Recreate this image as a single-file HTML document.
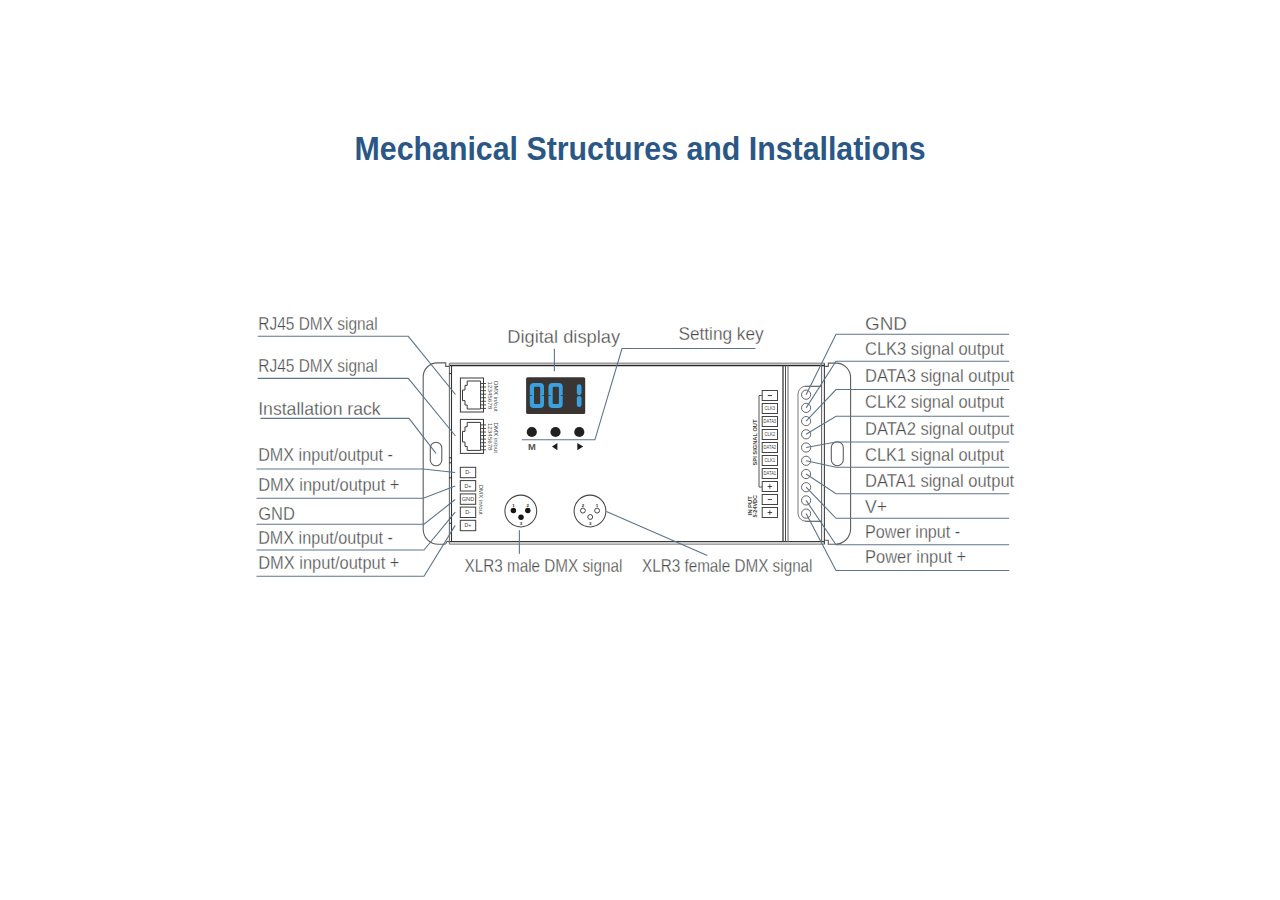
<!DOCTYPE html>
<html>
<head>
<meta charset="utf-8">
<style>
html,body{margin:0;padding:0;background:#fff;}
body{width:1280px;height:900px;overflow:hidden;position:relative;}
svg{position:absolute;left:0;top:0;}
.lbl{font-family:"Liberation Sans",sans-serif;font-size:18.4px;fill:#4a4a4a;stroke:#fff;stroke-width:0.3px;}
.ld{fill:none;stroke:#5d7489;stroke-width:1.1;}
.bd{fill:none;stroke:#3a3a3a;stroke-width:1.2;}
.gr{fill:none;stroke:#8a8a8a;stroke-width:1;}
.tiny{font-family:"Liberation Sans",sans-serif;fill:#555;}
</style>
</head>
<body>
<svg width="1280" height="900" viewBox="0 0 1280 900">
<!-- title -->
<text x="354.6" y="160" textLength="571" lengthAdjust="spacingAndGlyphs" style="font-family:'Liberation Sans',sans-serif;font-weight:bold;font-size:32.4px;fill:#2a5786;">Mechanical Structures and Installations</text>

<!-- ==== DEVICE ==== -->
<g id="device">
  <!-- left ear -->
  <path fill="none" stroke="#5e5e5e" stroke-width="1.1" d="M449.2,366.4 L445.7,366.4 L445.7,362.9 L437.2,362.9 A14,14 0 0 0 423.2,376.9 L423.2,529.3 A15,15 0 0 0 438.2,544.3 L444.5,544.3 Q446,544.3 446.3,542.6 Q446.8,541.2 448.2,541.4 L449.2,542"/>
  <rect x="430.3" y="442.2" width="11.5" height="23.5" rx="5.75" fill="none" stroke="#5e5e5e" stroke-width="1.1"/>
  <!-- right ear -->
  <path fill="none" stroke="#5e5e5e" stroke-width="1.1" d="M824.3,366.4 L828.3,366.4 L828.3,363.1 L836.1,363.1 A14.5,14.5 0 0 1 850.6,377.6 L850.6,528.8 A15.5,15.5 0 0 1 835.1,544.3 L828.3,544.3 L828.3,540.3 L824.3,540.3"/>
  <rect x="831.3" y="441.7" width="12" height="24" rx="6" fill="none" stroke="#5e5e5e" stroke-width="1.1"/>
  <!-- body -->
  <line x1="449.5" y1="363.2" x2="824.5" y2="363.2" stroke="#9c9c9c" stroke-width="1.4"/>
  <line x1="449.5" y1="365.5" x2="824.5" y2="365.5" stroke="#262626" stroke-width="1.3"/>
  <line x1="449.5" y1="541.7" x2="824.5" y2="541.7" stroke="#3a3a3a" stroke-width="1.3"/>
  <line x1="449.5" y1="544.2" x2="824.5" y2="544.2" stroke="#8a8a8a" stroke-width="1.3"/>
  <line x1="449.4" y1="363.2" x2="449.4" y2="544.2" stroke="#707070" stroke-width="1.1"/>
  <line x1="451.5" y1="365.5" x2="451.5" y2="541.7" stroke="#333" stroke-width="1.1"/>
  <line x1="821.6" y1="365.5" x2="821.6" y2="541.7" stroke="#6a6a6a" stroke-width="1.1"/>
  <line x1="824.4" y1="363.2" x2="824.4" y2="544.2" stroke="#404040" stroke-width="1.1"/>
  <line x1="783" y1="365.5" x2="783" y2="541.7" stroke="#3a3a3a" stroke-width="1.3"/>
  <line x1="785.5" y1="365.5" x2="785.5" y2="541.7" stroke="#4a4a4a" stroke-width="1"/>
  <line x1="788" y1="365.5" x2="788" y2="541.7" stroke="#707070" stroke-width="1.1"/>

  <path d="M449,373.6 H452 M449,457.8 H452 M449,462.8 H452 M449,477.8 H452 M449,518.3 H452 M449,523.3 H452" stroke="#333" stroke-width="1"/>
  <!-- RJ45 jacks -->
  <g>
    <rect x="460.4" y="378" width="23.1" height="34" fill="none" stroke="#3a3a3a" stroke-width="1"/>
    <path d="M467.2,381 L480.6,381 L480.6,409 L467.2,409 L467.2,405 L465,405 L465,400.6 L462.5,400.6 L462.5,390 L465,390 L465,385.4 L467.2,385.4 Z" fill="none" stroke="#3a3a3a" stroke-width="1"/>
    <path d="M480.6,383.50 H486 M480.6,387.06 H486 M480.6,390.62 H486 M480.6,394.18 H486 M480.6,397.74 H486 M480.6,401.30 H486 M480.6,404.86 H486 M480.6,408.42 H486" stroke="#3a3a3a" stroke-width="0.9"/>
    <text class="tiny" transform="translate(488.4,381.5) rotate(90)" textLength="27.7" lengthAdjust="spacingAndGlyphs" style="font-size:4.6px">12345678</text>
    <text class="tiny" transform="translate(494.2,381) rotate(90)" textLength="30.7" lengthAdjust="spacingAndGlyphs" style="font-size:5.4px;fill:#4a4a4a">DMX in/out</text>
  </g>
  <g>
    <rect x="460.4" y="419.4" width="23.1" height="34" fill="none" stroke="#3a3a3a" stroke-width="1"/>
    <path d="M467.2,422.4 L480.6,422.4 L480.6,450.4 L467.2,450.4 L467.2,446.4 L465,446.4 L465,442.0 L462.5,442.0 L462.5,431.4 L465,431.4 L465,426.79999999999995 L467.2,426.79999999999995 Z" fill="none" stroke="#3a3a3a" stroke-width="1"/>
    <path d="M480.6,424.90 H486 M480.6,428.46 H486 M480.6,432.02 H486 M480.6,435.58 H486 M480.6,439.14 H486 M480.6,442.70 H486 M480.6,446.26 H486 M480.6,449.82 H486" stroke="#3a3a3a" stroke-width="0.9"/>
    <text class="tiny" transform="translate(488.4,422.9) rotate(90)" textLength="27.7" lengthAdjust="spacingAndGlyphs" style="font-size:4.6px">12345678</text>
    <text class="tiny" transform="translate(494.2,422.4) rotate(90)" textLength="30.7" lengthAdjust="spacingAndGlyphs" style="font-size:5.4px;fill:#4a4a4a">DMX in/out</text>
  </g>

  <!-- display -->
  <rect x="526.1" y="377.2" width="59.1" height="36.9" rx="1.5" fill="#3a3433"/>
  <g id="digits" fill="#38a2e0">
    <path fill-rule="evenodd" d="M533.8,383 H540 A4,4 0 0 1 544,387 V404 A4,4 0 0 1 540,408 H533.8 A4,4 0 0 1 529.8,404 V387 A4,4 0 0 1 533.8,383 Z M535,386.8 Q534,386.8 534,387.8 V403.1 Q534,404.1 535,404.1 H539.2 Q540.2,404.1 540.2,403.1 V387.8 Q540.2,386.8 539.2,386.8 Z"/>
    <path fill-rule="evenodd" d="M552.5,383 H558.7 A4,4 0 0 1 562.7,387 V404 A4,4 0 0 1 558.7,408 H552.5 A4,4 0 0 1 548.5,404 V387 A4,4 0 0 1 552.5,383 Z M553.7,386.8 Q552.7,386.8 552.7,387.8 V403.1 Q552.7,404.1 553.7,404.1 H557.9 Q558.9,404.1 558.9,403.1 V387.8 Q558.9,386.8 557.9,386.8 Z"/>
    <rect x="576.8" y="384.3" width="4.7" height="10.9" rx="2.35"/>
    <rect x="576.8" y="396" width="4.7" height="11" rx="2.35"/>
  </g>
  <g stroke="#2f3a44" stroke-width="0.8">
    <path d="M529.5,395.5 H532 M542,395.5 H544.3 M548.2,395.5 H550.7 M560.7,395.5 H563"/>
  </g>
  <!-- buttons -->
  <circle cx="531.8" cy="432" r="5.1" fill="#231f20"/>
  <circle cx="555.5" cy="432" r="5.1" fill="#231f20"/>
  <circle cx="579.3" cy="432" r="5.1" fill="#231f20"/>
  <text x="528" y="450.3" textLength="7.8" lengthAdjust="spacingAndGlyphs" style="font-family:'Liberation Sans',sans-serif;font-weight:bold;font-size:9.6px;fill:#555">M</text>
  <path d="M557.4,442.9 L557.4,450.3 L552,446.6 Z" fill="#1d1d1d"/>
  <path d="M577.3,442.9 L577.3,450.3 L583.2,446.6 Z" fill="#1d1d1d"/>

  <!-- DMX terminals left -->
  <g stroke="#3d3d3d" stroke-width="1" fill="none">
    <rect x="460.3" y="467.3" width="15.4" height="10.4"/>
    <rect x="460.3" y="480.6" width="15.4" height="10.4"/>
    <rect x="460.3" y="493.9" width="15.4" height="10.4"/>
    <rect x="460.3" y="507.1" width="15.4" height="10.4"/>
    <rect x="460.3" y="520.3" width="15.4" height="10.4"/>
  </g>
  <g style="font-family:'Liberation Sans',sans-serif;font-size:5.2px;fill:#3d3d3d" text-anchor="middle">
    <text x="468" y="474.4">D-</text>
    <text x="468" y="487.7">D+</text>
    <text x="468" y="501.0" textLength="12.5" lengthAdjust="spacingAndGlyphs">GND</text>
    <text x="468" y="514.2">D-</text>
    <text x="468" y="527.4">D+</text>
  </g>
  <text transform="translate(479.2,484.7) rotate(90)" textLength="30" lengthAdjust="spacingAndGlyphs" style="font-family:'Liberation Sans',sans-serif;font-size:5.6px;fill:#4a4a4a">DMX in/out</text>

  <!-- XLR male -->
  <circle cx="520.8" cy="511" r="15.9" fill="none" stroke="#444" stroke-width="1.05"/>
  <circle cx="513.4" cy="510.5" r="2.75" fill="#151515"/>
  <circle cx="527.8" cy="510.5" r="2.75" fill="#151515"/>
  <circle cx="521" cy="517.3" r="2.75" fill="#151515"/>
  <g style="font-family:'Liberation Sans',sans-serif;font-size:4.4px;font-weight:bold;fill:#222" text-anchor="middle">
    <text x="513.4" y="507">1</text><text x="527.8" y="507">2</text><text x="521" y="525">3</text>
  </g>
  <!-- XLR female -->
  <circle cx="590" cy="511" r="15.9" fill="none" stroke="#444" stroke-width="1.05"/>
  <circle cx="582.9" cy="510.6" r="2.45" fill="none" stroke="#333" stroke-width="0.9"/>
  <circle cx="597.1" cy="510.6" r="2.45" fill="none" stroke="#333" stroke-width="0.9"/>
  <circle cx="590.2" cy="517" r="2.45" fill="none" stroke="#333" stroke-width="0.9"/>
  <g style="font-family:'Liberation Sans',sans-serif;font-size:4.4px;font-weight:bold;fill:#222" text-anchor="middle">
    <text x="582.9" y="507">2</text><text x="597.1" y="507">1</text><text x="590.2" y="525">3</text>
  </g>

  <!-- SPI terminals -->
  <g stroke="#444" stroke-width="1" fill="none">
    <rect x="762.2" y="390.5" width="15.3" height="10"/>
    <rect x="762.2" y="403.5" width="15.3" height="10"/>
    <rect x="762.2" y="416.5" width="15.3" height="10"/>
    <rect x="762.2" y="429.5" width="15.3" height="10"/>
    <rect x="762.2" y="442.5" width="15.3" height="10"/>
    <rect x="762.2" y="455.5" width="15.3" height="10"/>
    <rect x="762.2" y="468.5" width="15.3" height="10"/>
    <rect x="762.2" y="481.5" width="15.3" height="10"/>
    <rect x="762.2" y="494.5" width="15.3" height="10"/>
    <rect x="762.2" y="507.5" width="15.3" height="10"/>
    <path d="M762.2,395.5 H759 V487 H762.2" stroke="#555"/>
  </g>
  <g class="tiny" style="font-size:4.6px;fill:#3d3d3d" text-anchor="middle">
    <path d="M767.8,395.6 H771.9" stroke="#333" stroke-width="1"/>
    <text x="769.85" y="410.4" textLength="10.5" lengthAdjust="spacingAndGlyphs">CLK3</text>
    <text x="769.85" y="423.4" textLength="12.6" lengthAdjust="spacingAndGlyphs">DATA3</text>
    <text x="769.85" y="436.4" textLength="10.5" lengthAdjust="spacingAndGlyphs">CLK2</text>
    <text x="769.85" y="449.4" textLength="12.6" lengthAdjust="spacingAndGlyphs">DATA2</text>
    <text x="769.85" y="462.4" textLength="10.5" lengthAdjust="spacingAndGlyphs">CLK1</text>
    <text x="769.85" y="475.4" textLength="12.6" lengthAdjust="spacingAndGlyphs">DATA1</text>
    <path d="M767.6,486.5 H772.1 M769.85,484.3 V488.7 M767.8,499.5 H771.9 M767.6,512.5 H772.1 M769.85,510.3 V514.7" stroke="#333" stroke-width="0.9"/>
  </g>
  <text class="tiny" transform="translate(757,465.5) rotate(-90)" textLength="46" lengthAdjust="spacingAndGlyphs" style="font-size:5.4px;fill:#444;font-weight:bold">SPI SIGNAL OUT</text>
  <text class="tiny" transform="translate(752.2,515.5) rotate(-90)" textLength="19.5" lengthAdjust="spacingAndGlyphs" style="font-size:5px;fill:#444;font-weight:bold">IN PUT</text>
  <text class="tiny" transform="translate(757.4,517.5) rotate(-90)" textLength="22.5" lengthAdjust="spacingAndGlyphs" style="font-size:5px;fill:#444;font-weight:bold">5-24VDC</text>

  <!-- right terminal panel -->
  <path fill="none" stroke="#7a7a7a" stroke-width="1" d="M806,386.2 A8,8 0 0 0 798,394.2 L798,513 A8,8 0 0 0 806,521.2"/>
  <path fill="none" stroke="#444" stroke-width="1.1" d="M805.5,386.2 H821.6 M805.5,521.2 H821.6"/>
  <g fill="none" stroke="#666" stroke-width="1">
    <circle cx="806.1" cy="394.7" r="4.6"/>
    <circle cx="806.1" cy="407.9" r="4.6"/>
    <circle cx="806.1" cy="421.1" r="4.6"/>
    <circle cx="806.1" cy="434.3" r="4.6"/>
    <circle cx="806.1" cy="447.5" r="4.6"/>
    <circle cx="806.1" cy="460.8" r="4.6"/>
    <circle cx="806.1" cy="474.0" r="4.6"/>
    <circle cx="806.1" cy="487.2" r="4.6"/>
    <circle cx="806.1" cy="500.4" r="4.6"/>
    <circle cx="806.1" cy="513.6" r="4.6"/>
  </g>
</g>

<!-- ==== LEADER LINES ==== -->
<g class="ld">
  <polyline points="257.7,336.3 408.3,336.3 455.5,394.5"/>
  <polyline points="257.7,378.4 408.3,378.4 455.5,436"/>
  <polyline points="260.5,418.4 409,418.4 436,453.3"/>
  <polyline points="256.5,469 423.3,469 455.2,472.5"/>
  <polyline points="256.5,498.2 423.3,498.2 455.2,486"/>
  <polyline points="256.5,524.3 424,524.3 455.2,499.5"/>
  <polyline points="256.5,550 424,550 455.2,512.2"/>
  <polyline points="256.5,576.3 424,576.3 455.2,525.4"/>
  <polyline points="554.4,348.8 554.4,371.3"/>
  <polyline points="521.8,439.8 594.9,439.8 622,348.5 755.5,348.5"/>
  <polyline points="519.4,530.3 519.4,553.8"/>
  <polyline points="606.4,511.6 707.3,555.6"/>
  <polyline points="806.1,394.7 836,334.2 1009.2,334.2"/>
  <polyline points="806.1,407.9 836,361.2 1009.2,361.2"/>
  <polyline points="806.1,421.1 836,389.5 1009.2,389.5"/>
  <polyline points="806.1,434.3 836,416.2 1009.2,416.2"/>
  <polyline points="806.1,447.5 836,442 1009.2,442"/>
  <polyline points="806.1,460.8 836,467.2 1009.2,467.2"/>
  <polyline points="806.1,474.0 836,493.7 1009.2,493.7"/>
  <polyline points="806.1,487.2 836,518.3 1009.2,518.3"/>
  <polyline points="806.1,500.4 836,544.7 1009.2,544.7"/>
  <polyline points="806.1,513.6 836,570.5 1009.2,570.5"/>
</g>

<!-- ==== LABELS ==== -->
<g class="lbl">
  <text x="258.3" y="330.2" textLength="119.3" lengthAdjust="spacingAndGlyphs">RJ45 DMX signal</text>
  <text x="258.3" y="372.4" textLength="119.3" lengthAdjust="spacingAndGlyphs">RJ45 DMX signal</text>
  <text x="258.2" y="415.0" textLength="122.5" lengthAdjust="spacingAndGlyphs">Installation rack</text>
  <text x="258.2" y="461.0" textLength="134.8" lengthAdjust="spacingAndGlyphs">DMX input/output -</text>
  <text x="258.2" y="490.8" textLength="141.3" lengthAdjust="spacingAndGlyphs">DMX input/output +</text>
  <text x="258.2" y="520.0" textLength="36.7" lengthAdjust="spacingAndGlyphs">GND</text>
  <text x="258.2" y="544.0" textLength="134.8" lengthAdjust="spacingAndGlyphs">DMX input/output -</text>
  <text x="258.2" y="569.0" textLength="141.3" lengthAdjust="spacingAndGlyphs">DMX input/output +</text>
  <text x="507.2" y="343" textLength="113.0" lengthAdjust="spacingAndGlyphs">Digital display</text>
  <text x="678.4" y="339.7" textLength="85.3" lengthAdjust="spacingAndGlyphs">Setting key</text>
  <text x="464.5" y="571.7" textLength="157.9" lengthAdjust="spacingAndGlyphs">XLR3 male DMX signal</text>
  <text x="642.0" y="572.0" textLength="170.5" lengthAdjust="spacingAndGlyphs">XLR3 female DMX signal</text>
  <text x="865.0" y="330.0" textLength="42.0" lengthAdjust="spacingAndGlyphs">GND</text>
  <text x="865.0" y="355.0" textLength="139.2" lengthAdjust="spacingAndGlyphs">CLK3 signal output</text>
  <text x="865.0" y="382.0" textLength="149.2" lengthAdjust="spacingAndGlyphs">DATA3 signal output</text>
  <text x="865.0" y="408.3" textLength="139.2" lengthAdjust="spacingAndGlyphs">CLK2 signal output</text>
  <text x="865.0" y="435.0" textLength="149.2" lengthAdjust="spacingAndGlyphs">DATA2 signal output</text>
  <text x="865.0" y="461.3" textLength="139.2" lengthAdjust="spacingAndGlyphs">CLK1 signal output</text>
  <text x="865.0" y="487.2" textLength="149.2" lengthAdjust="spacingAndGlyphs">DATA1 signal output</text>
  <text x="865.0" y="513.3" textLength="22.0" lengthAdjust="spacingAndGlyphs">V+</text>
  <text x="865.0" y="537.5" textLength="95.2" lengthAdjust="spacingAndGlyphs">Power input -</text>
  <text x="865.0" y="563.0" textLength="101.2" lengthAdjust="spacingAndGlyphs">Power input +</text>
</g>
</svg>
</body>
</html>
